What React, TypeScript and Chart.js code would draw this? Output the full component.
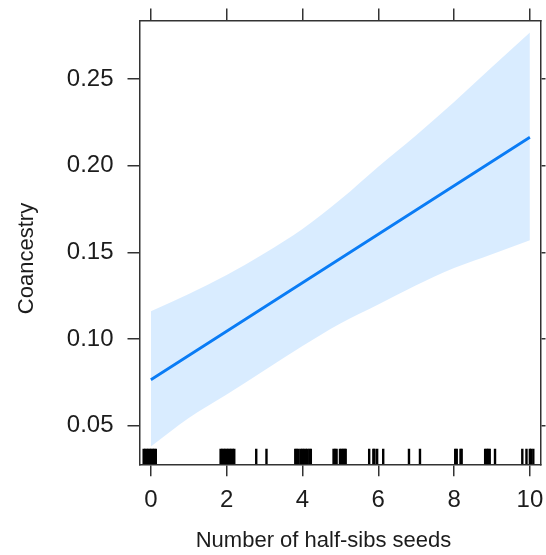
import { useEffect, useRef } from "react";
import { Chart, registerables } from "chart.js";

Chart.register(...registerables);

// Fitted coancestry against number of half-sib seeds, with its confidence band
const seedCounts = [0, 1, 2, 3, 4, 5, 6, 7, 8, 9, 10];
const coancestryFit = [0.0765, 0.0905, 0.1045, 0.1185, 0.1325, 0.1465, 0.1605, 0.1745, 0.1885, 0.2025, 0.2165];
const upperBound = [0.116, 0.126, 0.137, 0.1495, 0.1635, 0.1805, 0.1995, 0.2177, 0.2368, 0.257, 0.277];
const lowerBound = [0.038, 0.0545, 0.068, 0.082, 0.096, 0.109, 0.12, 0.131, 0.141, 0.149, 0.157];

// Observed (jittered) seed counts shown as a rug along the bottom
const rugSeeds = [
  -0.19, -0.15, -0.11, -0.07, -0.03, 0.01, 0.05, 0.09, 0.13,
  1.84, 1.88, 1.92, 1.96, 2.0, 2.04, 2.08, 2.12, 2.16, 2.2,
  2.78, 3.05,
  3.81, 3.85, 3.9, 3.96, 4.0, 4.04, 4.09, 4.13, 4.18, 4.22,
  4.82, 4.86, 4.9, 4.99, 5.03, 5.07, 5.11, 5.14,
  5.76, 5.87, 5.9, 5.97, 6.13,
  6.81, 7.1,
  8.03, 8.07, 8.17, 8.2,
  8.82, 8.86, 8.9, 8.94, 9.08,
  9.8, 9.91, 10.0, 10.03, 10.09,
];
const rugLevel = 0.0322;

const xTicks = [0, 2, 4, 6, 8, 10];
const yTicks = [0.05, 0.1, 0.15, 0.2, 0.25];
const xTitle = "Number of half-sibs seeds";
const yTitle = "Coancestry";

const FONT = "'Liberation Sans', Arial, Helvetica, sans-serif";
const INK = "#1c1c1c";
const FRAME = "#333333";

const axisTitles = {
  id: "axisTitles",
  afterDraw(chart: any) {
    const { ctx, chartArea } = chart;
    ctx.save();
    ctx.fillStyle = INK;
    ctx.font = `22px ${FONT}`;
    ctx.textAlign = "center";
    ctx.textBaseline = "middle";
    ctx.fillText(xTitle, chartArea.left + 184, 541);
    ctx.translate(27, chartArea.top + 238);
    ctx.rotate(-Math.PI / 2);
    ctx.fillText(yTitle, 0, 0);
    ctx.restore();
  },
};

// Fixed axis boxes: no extra label padding spilling into the plot area
const fixBox = (size: number, horizontal: boolean) => (s: any) => {
  if (horizontal) s.height = size;
  else s.width = size;
  s.paddingTop = 0;
  s.paddingBottom = 0;
  s.paddingLeft = 0;
  s.paddingRight = 0;
};

export default function App() {
  const canvasRef = useRef<HTMLCanvasElement | null>(null);

  useEffect(() => {
    const canvas = canvasRef.current;
    if (!canvas) return;

    const pts = (ys: number[]) => seedCounts.map((x, i) => ({ x, y: ys[i] }));
    const xRange = { min: -0.3, max: 10.28 };
    const yRange = { min: 0.02771, max: 0.2839 };
    const frameGrid = (len: number) => ({ drawOnChartArea: false, tickLength: len, color: FRAME, lineWidth: 1.5 });
    const frameBorder = { display: true, color: FRAME, width: 1.5 };

    const chart = new Chart(canvas, {
      type: "line",
      data: {
        datasets: [
          {
            label: "fit",
            data: pts(coancestryFit),
            borderColor: "#0a7cf5",
            borderWidth: 2.8,
            pointRadius: 0,
            fill: false,
          },
          {
            type: "scatter",
            label: "rug",
            data: rugSeeds.map((x) => ({ x, y: rugLevel })),
            pointStyle: "line",
            rotation: 90,
            radius: 7.7,
            borderColor: "#000000",
            backgroundColor: "#000000",
            borderWidth: 2.4,
            showLine: false,
          } as any,
          {
            label: "upper",
            data: pts(upperBound),
            borderWidth: 0,
            borderColor: "rgba(0,0,0,0)",
            backgroundColor: "rgba(0,128,255,0.15)",
            pointRadius: 0,
            cubicInterpolationMode: "monotone",
            fill: 3,
          },
          {
            label: "lower",
            data: pts(lowerBound),
            borderWidth: 0,
            borderColor: "rgba(0,0,0,0)",
            pointRadius: 0,
            cubicInterpolationMode: "monotone",
            fill: false,
          },
        ],
      },
      options: {
        responsive: false,
        animation: false,
        devicePixelRatio: 1,
        layout: { autoPadding: false, padding: { left: 12, right: 0, top: 0, bottom: 0 } },
        plugins: { legend: { display: false }, tooltip: { enabled: false } },
        scales: {
          x: {
            type: "linear",
            position: "bottom",
            ...xRange,
            afterBuildTicks: (s: any) => { s.ticks = xTicks.map((value) => ({ value })); },
            afterFit: fixBox(90.7, true),
            ticks: {
              padding: 10,
              color: INK,
              font: { family: FONT, size: 24 },
              callback: (v: any) => String(v),
              maxRotation: 0,
            },
            grid: frameGrid(12),
            border: frameBorder,
          },
          xTop: {
            type: "linear",
            position: "top",
            ...xRange,
            afterBuildTicks: (s: any) => { s.ticks = xTicks.map((value) => ({ value })); },
            afterFit: fixBox(20.5, true),
            ticks: { display: false },
            grid: frameGrid(12),
            border: frameBorder,
          },
          y: {
            type: "linear",
            position: "left",
            ...yRange,
            afterBuildTicks: (s: any) => { s.ticks = yTicks.map((value) => ({ value })); },
            afterFit: fixBox(127.5, false),
            ticks: {
              padding: 14,
              color: INK,
              font: { family: FONT, size: 24 },
              callback: (v: any) => Number(v).toFixed(2),
            },
            grid: frameGrid(12),
            border: frameBorder,
          },
          yRight: {
            type: "linear",
            position: "right",
            ...yRange,
            afterBuildTicks: (s: any) => { s.ticks = yTicks.map((value) => ({ value })); },
            afterFit: fixBox(5.5, false),
            ticks: { display: false },
            grid: frameGrid(5),
            border: frameBorder,
          },
        },
      } as any,
      plugins: [axisTitles],
    });

    return () => chart.destroy();
  }, []);

  return (
    <div style={{ position: "absolute", left: 0, top: 0, width: 546, height: 555, background: "#ffffff" }}>
      <canvas ref={canvasRef} width={546} height={555} />
    </div>
  );
}
